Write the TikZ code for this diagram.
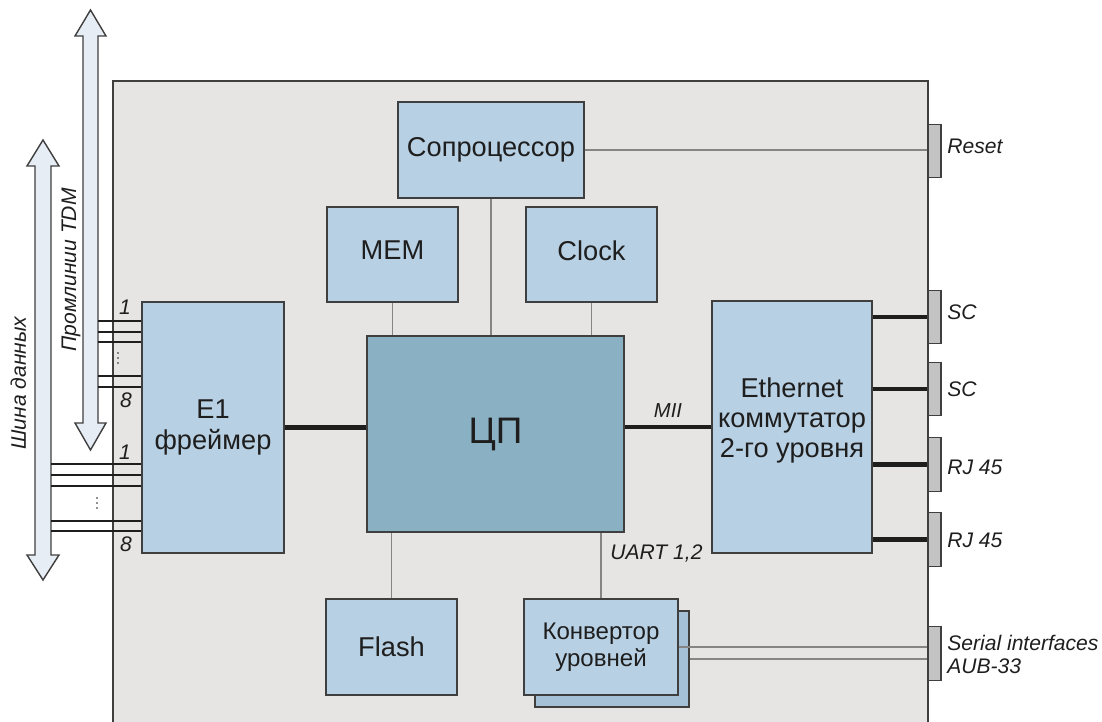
\documentclass[tikz,border=0pt]{standalone}
\usepackage{fontspec}
\setmainfont{Liberation Sans}
\definecolor{boardfill}{HTML}{E6E5E3}
\definecolor{boxfill}{HTML}{B8D0E3}
\definecolor{cpufill}{HTML}{8AB0C3}
\definecolor{backfill}{HTML}{A5C1D7}
\definecolor{edgecol}{HTML}{3F3F3F}
\definecolor{thincol}{HTML}{858585}
\definecolor{portfill}{HTML}{C3C3C3}
\definecolor{busfill}{HTML}{E7EDF4}
\definecolor{txtcol}{HTML}{1E1E1E}
\begin{document}
\begin{tikzpicture}[x=0.02cm,y=-0.02cm,
  box/.style={draw=edgecol, line width=0.9pt, fill=boxfill, inner sep=0pt,
    text=txtcol, align=center, font=\fontsize{15.5}{17.6}\selectfont},
  bsize/.style 2 args={minimum width=#1*0.02cm, minimum height=#2*0.02cm},
  port/.style={draw=edgecol, line width=0.8pt, fill=portfill, inner sep=0pt,
    minimum width=0.26cm, minimum height=1.07cm},
  lbl/.style={inner sep=0pt, text=txtcol, font=\fontsize{12}{14}\selectfont\itshape},
  thinline/.style={draw=thincol, line width=0.8pt},
  thickline/.style={draw=txtcol, line width=2.4pt},
  busline/.style={draw=txtcol, line width=1.1pt},
  bus/.style={draw=edgecol, line width=0.8pt, fill=busfill, line join=miter},
]
\useasboundingbox (0,0) rectangle (1102,722);

% board
\fill[boardfill] (113,81) rectangle (928,730);
\draw[edgecol, line width=0.9pt] (113,730) -- (113,81) -- (928,81) -- (928,730);

% buses
\draw[bus] (90.5,10) -- (106,36) -- (98,36) -- (98,423) -- (106,423) -- (90.5,450)
  -- (75,423) -- (83,423) -- (83,36) -- (75,36) -- cycle;
\draw[bus] (43,140) -- (59,166) -- (51,166) -- (51,555) -- (59,555) -- (43,580)
  -- (27,555) -- (35,555) -- (35,166) -- (27,166) -- cycle;
\coordinate (tdmR) at (98,0);
\coordinate (busR) at (51,0);
\node[lbl, rotate=90, anchor=base] (tdmtxt) at (76,270) {Промлинии TDM};
\node[lbl, rotate=90, anchor=base] (bustxt) at (26,383) {Шина данных};

% blocks
\node[box, bsize={186}{96}] (cop) at (491,150) {Сопроцессор};
\node[box, bsize={131}{95}, text depth=0.16cm] (mem) at (392.5,254.5) {MEM};
\node[box, bsize={131}{95}, text depth=0.16cm] (clk) at (591.5,254.5) {Clock};
\node[box, bsize={257}{196}, fill=cpufill, font=\fontsize{21}{24}\selectfont] (cpu) at (495.5,434) {ЦП};
\node[box, bsize={142}{251}, font=\fontsize{15.5}{17.6}\selectfont] (e1) at (213,427.5) {E1\\фреймер};
\node[box, bsize={160}{252}] (eth) at (792,427) {};
\node[inner sep=0pt, text=txtcol, align=center, font=\fontsize{15.5}{17.3}\selectfont] (ethtxt) at (792,420.5) {Ethernet\\коммутатор\\2-го уровня};
\node[box, bsize={131}{96}] (flash) at (391.5,647) {Flash};
\node[box, bsize={154}{96}, fill=backfill] (convb) at (612,659) {};
\node[box, bsize={154}{96}, font=\fontsize{13.7}{15.3}\selectfont] (conv) at (601,647) {Конвертор\\уровней};

% ports
\node[port] (reset) at (934.5,151) {};
\node[port] (sc1) at (934.5,317) {};
\node[port] (sc2) at (934.5,389) {};
\node[port] (rj1) at (934.5,464.5) {};
\node[port] (rj2) at (934.5,539.5) {};
\node[port] (ser) at (934.5,653.5) {};

\node[lbl, anchor=base west] (resettxt) at (947,154) {Reset};
\node[lbl, anchor=base west] (sc1txt) at (947,320) {SC};
\node[lbl, anchor=base west] (sc2txt) at (947,397) {SC};
\node[lbl, anchor=base west] (rj1txt) at (947,475) {RJ 45};
\node[lbl, anchor=base west] (rj2txt) at (947,547) {RJ 45};
\node[lbl, anchor=base west] (sertxt) at (947,650) {Serial interfaces};
\node[lbl, anchor=base west] (aubtxt) at (947,673) {AUB-33};

% thin connections
\draw[thinline] (cop.south) -- (cop.south |- cpu.north);
\draw[thinline] (mem.south) -- (mem.south |- cpu.north);
\draw[thinline] (clk.south) -- (clk.south |- cpu.north);
\draw[thinline] (flash.north) -- (flash.north |- cpu.south);
\draw[thinline] (conv.north) -- (conv.north |- cpu.south);
\draw[thinline] (cop.east) -- (cop.east -| reset.west);
\draw[thinline] (conv.east) -- (conv.east -| ser.west);
\draw[thinline] (convb.east) -- (convb.east -| ser.west);

% thick connections
\draw[thickline] (e1.east) -- (e1.east -| cpu.west);
\draw[thickline] (cpu.east |- eth.west) -- (eth.west);
\draw[thickline] (eth.east |- sc1) -- (sc1.west);
\draw[thickline] (eth.east |- sc2) -- (sc2.west);
\draw[thickline] (eth.east |- rj1) -- (rj1.west);
\draw[thickline] (eth.east |- rj2) -- (rj2.west);

\node[lbl, anchor=base, font=\fontsize{11.5}{13}\selectfont\itshape] (miitxt) at (668,418) {MII};
\node[lbl, anchor=base west] (uarttxt) at (610,560) {UART 1,2};

% TDM lines
\foreach \yy in {321,332,342,376,387}
  \draw[busline] (tdmR |- 0,\yy) -- (e1.west |- 0,\yy);
% data bus lines
\foreach \yy in {464,475,486,521,531}
  \draw[busline] (busR |- 0,\yy) -- (e1.west |- 0,\yy);

\node[lbl, anchor=base] (t1) at (125,315) {1};
\node[lbl, anchor=base] (t8) at (126,408) {8};
\node[lbl, anchor=base] (d1) at (125,460) {1};
\node[lbl, anchor=base] (d8) at (126,552) {8};
\foreach \dd in {-5,0,5} {
  \fill[txtcol] (118,358+\dd) circle (0.55pt);
  \fill[txtcol] (97,503+\dd) circle (0.55pt);
}
\end{tikzpicture}
\end{document}
